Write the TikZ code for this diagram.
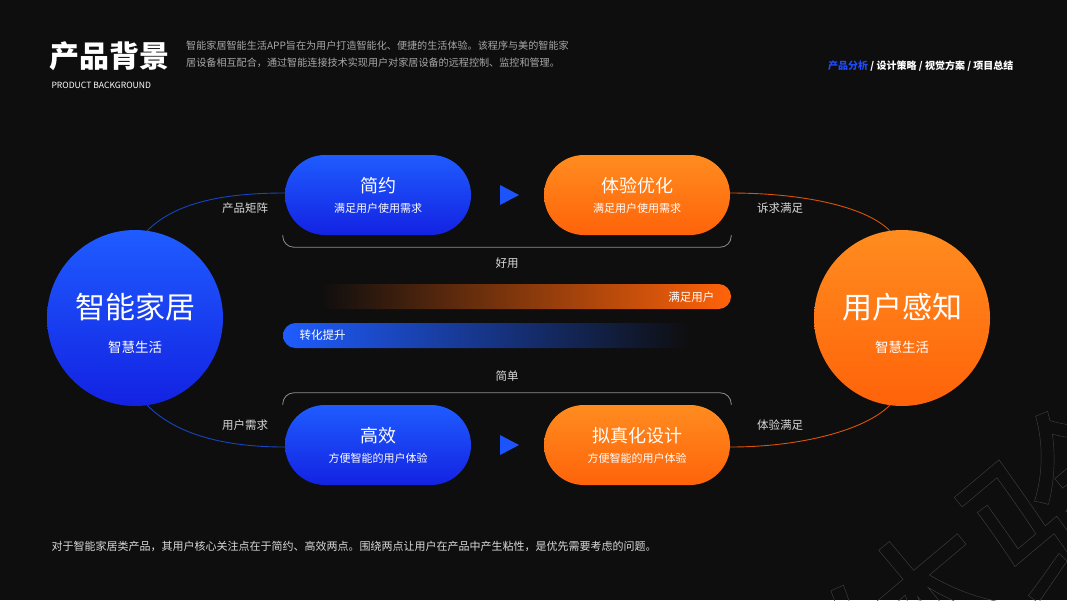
\documentclass[tikz,border=0pt]{standalone}
\usepackage{fontspec}
\setmainfont{Noto Sans CJK SC}
\usetikzlibrary{shapes.misc}
\usetikzlibrary{positioning}

\definecolor{bgdark}{HTML}{0E0E0E}
\definecolor{blueTop}{HTML}{1F5CFF}
\definecolor{blueBot}{HTML}{1322E2}
\definecolor{orgTop}{HTML}{FF8C1F}
\definecolor{orgBot}{HTML}{FF630A}
\definecolor{navblue}{HTML}{1F4BFF}
\definecolor{greytxt}{HTML}{A8A8A8}

\newcommand{\fs}[1]{\fontsize{#1}{#1}\selectfont}

\begin{document}
\begin{tikzpicture}[
    x=1pt, y=1pt,
    pill/.style={rounded rectangle, minimum width=186pt, minimum height=80pt,
                 inner sep=0pt, align=center, text=white},
    bluepill/.style={pill, top color=blueTop, bottom color=blueBot},
    orgpill/.style={pill, top color=orgTop, bottom color=orgBot},
    bigcircle/.style={circle, minimum size=176pt, inner sep=0pt},
    sidelabel/.style={text=white!85!black, font=\fs{11.5}},
    bluelink/.style={draw=blueTop!75!black, line width=0.9pt},
    orglink/.style={draw=orgBot!85!black, line width=0.9pt},
    brace/.style={draw=white!55!black, line width=0.8pt, rounded corners=11pt}
]

% --- Background ---
\fill[bgdark] (0,0) rectangle (1067,-600);
\useasboundingbox (0,0) rectangle (1067,-600);

% --- Watermark ---
\begin{scope}
\clip (0,0) rectangle (1067,-600);
\node[rotate=40, text=white!20!bgdark, font=\fs{190}] (mark) at (995,-565)
    {\special{pdf:literal direct 1 Tr 0.45 w}体验\special{pdf:literal direct 0 Tr}};
\end{scope}

% --- Header ---
\node[anchor=west, text=white, font=\bfseries\fs{30}] (title) at (46,-56) {产品背景};
\node[anchor=west, text=white, font=\fs{8.6}] (subtitle) at (48,-85) {PRODUCT BACKGROUND};
\node[anchor=north west, text=greytxt, font=\fs{10.1}, align=left, inner sep=0pt] (intro) at (186,-41)
    {智能家居智能生活APP旨在为用户打造智能化、便捷的生活体验。该程序与美的智能家\\[6.5pt]
     居设备相互配合，通过智能连接技术实现用户对家居设备的远程控制、监控和管理。};
\node[anchor=east, font=\bfseries\fs{10}, text=white] (nav) at (1017,-66)
    {\textcolor{navblue}{产品分析} / 设计策略 / 视觉方案 / 项目总结};

% --- Circles ---
\node[bigcircle, top color=blueTop, bottom color=blueBot] (lc) at (135,-318) {};
\node[text=white, font=\fs{30}] (lct) at (135,-307) {智能家居};
\node[text=white, font=\fs{13.5}] (lcs) at (135,-347) {智慧生活};

\node[bigcircle, top color=orgTop, bottom color=orgBot] (rc) at (902,-318) {};
\node[text=white, font=\fs{30}] (rct) at (902,-307) {用户感知};
\node[text=white, font=\fs{13.5}] (rcs) at (902,-347) {智慧生活};

% --- Pills ---
\node[bluepill] (jy) at (378,-195) {{\fs{18}简约}\\[8pt]{\fs{11}\color{white!80}满足用户使用需求}};
\node[orgpill]  (yh) at (637,-195) {{\fs{18}体验优化}\\[8pt]{\fs{11}\color{white!80}满足用户使用需求}};
\node[bluepill] (gx) at (378,-445) {{\fs{18}高效}\\[8pt]{\fs{11}\color{white!80}方便智能的用户体验}};
\node[orgpill]  (nz) at (637,-445) {{\fs{18}拟真化设计}\\[8pt]{\fs{11}\color{white!80}方便智能的用户体验}};

% --- Arrow marks ---
\fill[blueTop!85!blueBot] (500,-185) -- (519,-195) -- (500,-205) -- cycle;
\fill[blueTop!85!blueBot] (500,-435) -- (519,-445) -- (500,-455) -- cycle;

% --- Braces ---
\draw[brace] ([xshift=-2pt]jy.west |- jy.south) -- ++(0,-12) -| ([xshift=1pt]yh.east |- yh.south);
\node[sidelabel] (haoyong) at (507,-263) {好用};
\draw[brace] ([xshift=-2pt]gx.west |- gx.north) -- ++(0,12) -| ([xshift=1pt]nz.east |- nz.north);
\node[sidelabel] (jiandan) at (507,-376) {简单};

% --- Bars ---
\node[rounded rectangle, rounded rectangle left arc=none, minimum width=411pt, minimum height=25pt,
      inner sep=0pt, left color=bgdark, right color=orgBot] (obar) at (525.5,-296.5) {};
\node[anchor=east, text=white, font=\fs{11.5}] (obart) at (718,-297) {满足用户};
\node[rounded rectangle, rounded rectangle right arc=none, minimum width=407pt, minimum height=25pt,
      inner sep=0pt, left color=blueTop, right color=bgdark] (bbar) at (486.5,-335.5) {};
\node[anchor=west, text=white, font=\fs{11.5}] (bbart) at (296,-335.5) {转化提升};

% --- Links ---
\draw[bluelink] (lc.82) .. controls +(25,25) and +(-70,0) .. ([yshift=2pt]jy.west);
\draw[bluelink] (lc.-82) .. controls +(25,-25) and +(-70,0) .. ([yshift=-2pt]gx.west);
\draw[orglink] ([yshift=2pt]yh.east) .. controls +(70,0) and +(-25,25) .. (rc.98);
\draw[orglink] ([yshift=-2pt]nz.east) .. controls +(70,0) and +(-25,-25) .. (rc.-98);

\node[sidelabel] (l1) at (245,-208) {产品矩阵};
\node[sidelabel] (l2) at (245,-425) {用户需求};
\node[sidelabel] (l3) at (780,-208) {诉求满足};
\node[sidelabel] (l4) at (780,-425) {体验满足};

% --- Footer ---
\node[anchor=west, text=white!85!black, font=\fs{11}] (footer) at (48,-546)
    {对于智能家居类产品，其用户核心关注点在于简约、高效两点。围绕两点让用户在产品中产生粘性，是优先需要考虑的问题。};

\end{tikzpicture}
\end{document}
